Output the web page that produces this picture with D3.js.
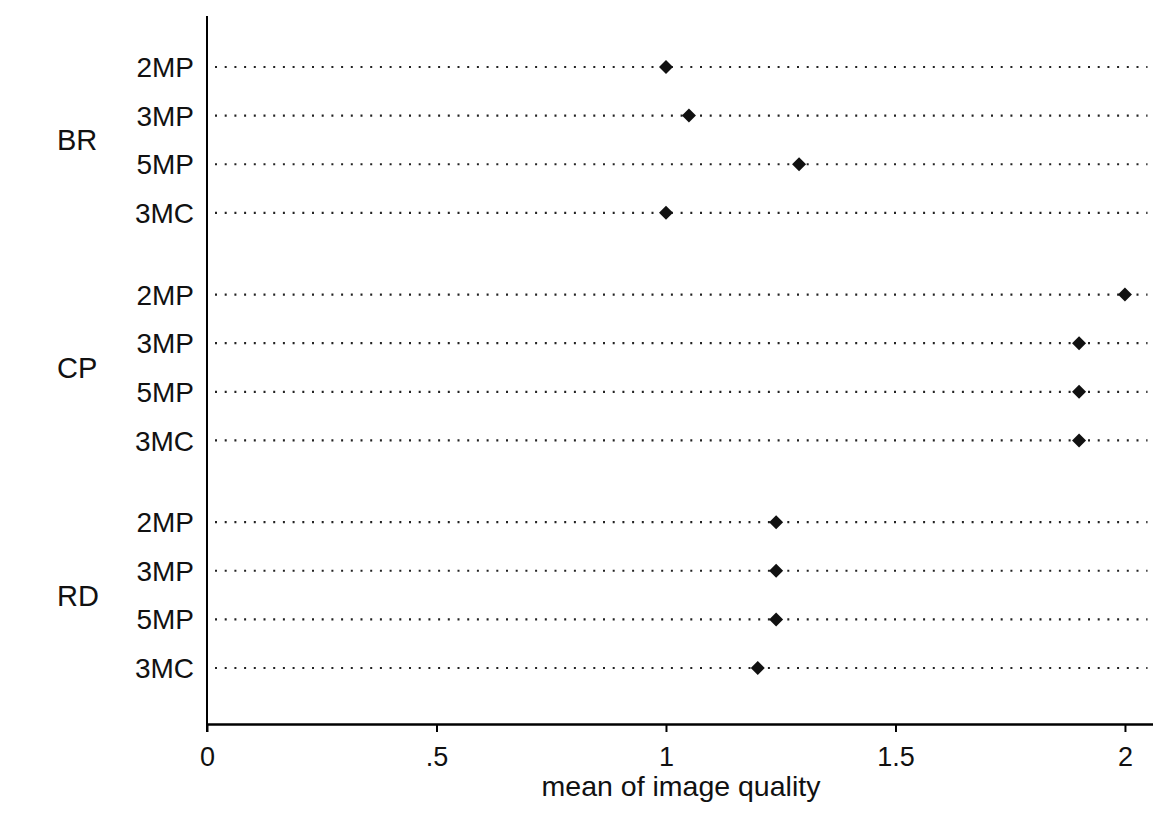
<!DOCTYPE html>
<html>
<head>
<meta charset="utf-8">
<script src="https://cdn.jsdelivr.net/npm/d3@7"></script>
<style>
  html, body { margin: 0; padding: 0; background: #fff; }
  svg { display: block; font-family: "Liberation Sans", Arial, sans-serif; }
</style>
</head>
<body>
<svg id="chart" width="1169" height="831"></svg>
<script>
const groups = ["BR", "CP", "RD"];
const rows = ["2MP", "3MP", "5MP", "3MC"];
const brValues = [1.0, 1.05, 1.29, 1.0];
const cpValues = [2.0, 1.9, 1.9, 1.9];
const rdValues = [1.24, 1.24, 1.24, 1.2];
const tickValues = [0, 0.5, 1, 1.5, 2];
const tickLabels = ["0", ".5", "1", "1.5", "2"];
const xTitle = "mean of image quality";

const seriesByGroup = [brValues, cpValues, rdValues];
const gapRatio = 0.68;
const data = [];
groups.forEach((g, gi) => {
  rows.forEach((r, ri) => {
    data.push({ group: g, row: r, value: seriesByGroup[gi][ri], slot: gi * (rows.length + gapRatio) + ri });
  });
});

const svg = d3.select("#chart");
const x = d3.scaleLinear().domain([0, 2.06]).range([207, 1152.5]);
const y = d3.scaleLinear().domain([0, 2 * (rows.length + gapRatio) + 3]).range([67, 668]);

const axisY = 724, axisTop = 16;

// dotted guide lines
svg.append("g").selectAll("line").data(data).join("line")
  .attr("x1", x(0) + 8).attr("x2", x(2.06) - 5)
  .attr("y1", d => y(d.slot)).attr("y2", d => y(d.slot))
  .attr("stroke", "#222").attr("stroke-width", 2.2)
  .attr("stroke-dasharray", "2 7.7");

// markers (diamonds)
const dsz = 7;
svg.append("g").selectAll("path").data(data).join("path")
  .attr("d", d => {
    const cx = x(d.value), cy = y(d.slot);
    return `M${cx},${cy - dsz}L${cx + dsz},${cy}L${cx},${cy + dsz}L${cx - dsz},${cy}Z`;
  })
  .attr("fill", "#111");

// row labels
svg.append("g").selectAll("text").data(data).join("text")
  .attr("x", 194).attr("y", d => y(d.slot)).attr("dy", "0.36em")
  .attr("text-anchor", "end").attr("font-size", 28).attr("fill", "#111")
  .text(d => d.row);

// group labels
svg.append("g").selectAll("text").data(groups).join("text")
  .attr("x", 57).attr("y", (g, gi) => y(gi * (rows.length + gapRatio) + 1.5)).attr("dy", "0.36em")
  .attr("text-anchor", "start").attr("font-size", 29).attr("fill", "#111")
  .text(g => g);

// y axis line
svg.append("line").attr("x1", x(0)).attr("x2", x(0)).attr("y1", axisTop).attr("y2", axisY + 8)
  .attr("stroke", "#000").attr("stroke-width", 2);

// x axis
const xAxis = d3.axisBottom(x).tickValues(tickValues)
  .tickFormat((d, i) => tickLabels[i]).tickSize(8).tickSizeOuter(0).tickPadding(15);
const gx = svg.append("g").attr("transform", `translate(0,${axisY})`).call(xAxis);
gx.select(".domain").attr("stroke", "#000").attr("stroke-width", 2.5);
gx.selectAll(".tick line").attr("stroke", "#000").attr("stroke-width", 2);
gx.selectAll(".tick text").attr("font-size", 27).attr("fill", "#111")
  .attr("font-family", "'Liberation Sans', Arial, sans-serif");

// x title
svg.append("text").attr("x", 681).attr("y", 796).attr("text-anchor", "middle")
  .attr("font-size", 28.5).attr("fill", "#111").text(xTitle);
</script>
</body>
</html>
